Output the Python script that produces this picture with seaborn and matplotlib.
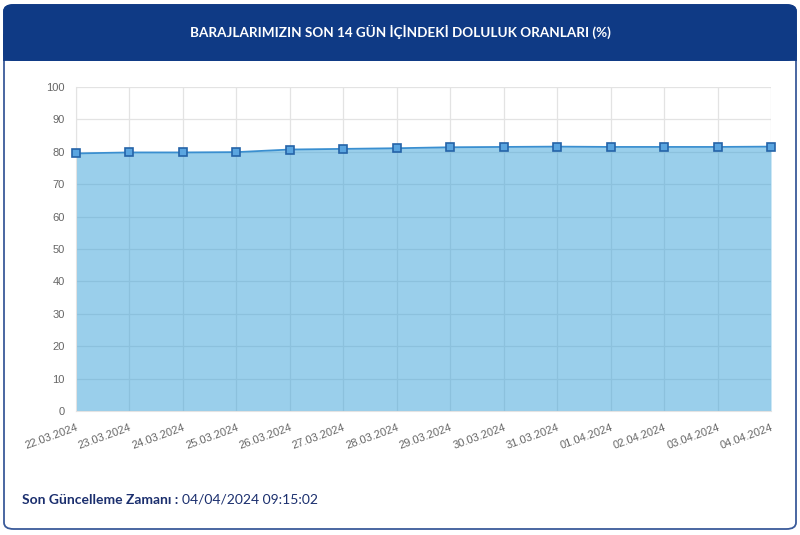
import matplotlib
matplotlib.use("Agg")
import matplotlib.pyplot as plt
import seaborn as sns
import pandas as pd
from matplotlib.patches import FancyBboxPatch, Rectangle

# Data
dates = ["22.03.2024", "23.03.2024", "24.03.2024", "25.03.2024", "26.03.2024",
         "27.03.2024", "28.03.2024", "29.03.2024", "30.03.2024", "31.03.2024",
         "01.04.2024", "02.04.2024", "03.04.2024", "04.04.2024"]
doluluk = [79.5, 79.8, 79.8, 79.9, 80.7, 80.9, 81.1, 81.4, 81.5, 81.6,
           81.5, 81.5, 81.5, 81.6]
yticks = list(range(0, 101, 10))

title = "BARAJLARIMIZIN SON 14 GÜN İÇİNDEKİ DOLULUK ORANLARI (%)"
update_label = "Son Güncelleme Zamanı :"
update_time = "04/04/2024 09:15:02"

df = pd.DataFrame({"pos": range(len(dates)), "tarih": dates, "oran": doluluk})

W, H = 800, 535
sns.set_style("white")
plt.rcParams["font.family"] = ["Liberation Sans", "DejaVu Sans"]

fig = plt.figure(figsize=(W / 100, H / 100), dpi=100)

def fx(px):
    return px / W

def fy(py):
    return 1 - py / H

# card + header (behind the axes)
card = FancyBboxPatch((fx(4), fy(529)), fx(792), 524 / H,
                      boxstyle="round,pad=0,rounding_size=0.012",
                      transform=fig.transFigure, facecolor="white",
                      edgecolor="#3a5a9a", linewidth=1.3, zorder=-3)
fig.patches.append(card)
header = FancyBboxPatch((fx(4), fy(60)), fx(792), 55 / H,
                        boxstyle="round,pad=0,rounding_size=0.012",
                        transform=fig.transFigure, facecolor="#0f3a85",
                        edgecolor="#0f3a85", linewidth=1.3, zorder=-2)
fig.patches.append(header)
fig.patches.append(Rectangle((fx(4), fy(60)), fx(792), 25 / H,
                             transform=fig.transFigure, facecolor="#0f3a85",
                             edgecolor="#0f3a85", linewidth=1.3, zorder=-2))
fig.text(0.5, fy(32), title, color="white", fontsize=9.7, fontweight="bold",
         ha="center", va="center", family=["Lato", "DejaVu Sans"])

ax = fig.add_axes([fx(76), fy(411), fx(695), 324 / H])
ax.set_zorder(1)
ax.patch.set_alpha(0)
ax.set_axisbelow(True)
ax.grid(True, color="#e3e3e3", linewidth=0.9)

ax.fill_between(df["pos"], df["oran"], 0, color=(55 / 255, 161 / 255, 217 / 255),
                alpha=0.5, linewidth=0, zorder=2)
sns.lineplot(data=df, x="pos", y="oran", ax=ax, color="#3a8fd0", linewidth=1.3,
             marker="s", markersize=6, markerfacecolor="#5aa5e0",
             markeredgecolor="#2563a8", markeredgewidth=1.2, zorder=3,
             clip_on=False)

ax.set_xlim(0, len(dates) - 1)
ax.set_ylim(0, 100)
ax.set_yticks(yticks)
ax.set_xticks(df["pos"])
ax.set_xticklabels(dates, rotation=20, ha="right", rotation_mode="anchor")
ax.set_xlabel("")
ax.set_ylabel("")
ax.tick_params(axis="both", colors="#666666", labelsize=8, length=5,
               width=0.8, pad=3)
ax.tick_params(axis="both", color="#e3e3e3")
for lab in ax.get_xticklabels() + ax.get_yticklabels():
    lab.set_color("#666666")
for side in ["top", "right"]:
    ax.spines[side].set_visible(False)
ax.spines["left"].set_color("#e3e3e3")
ax.spines["bottom"].set_color("#e3e3e3")

t1 = fig.text(fx(22), fy(500), update_label, color="#1b2f6e", fontsize=10,
              fontweight="bold", ha="left", va="center",
              family=["Lato", "DejaVu Sans"])
fig.canvas.draw()
bb = t1.get_window_extent()
fig.text(bb.x1 / W + fx(4), fy(500), update_time, color="#1b2f6e", fontsize=10,
         ha="left", va="center", family=["Lato", "DejaVu Sans"])

fig.savefig("out.png", dpi=100)
